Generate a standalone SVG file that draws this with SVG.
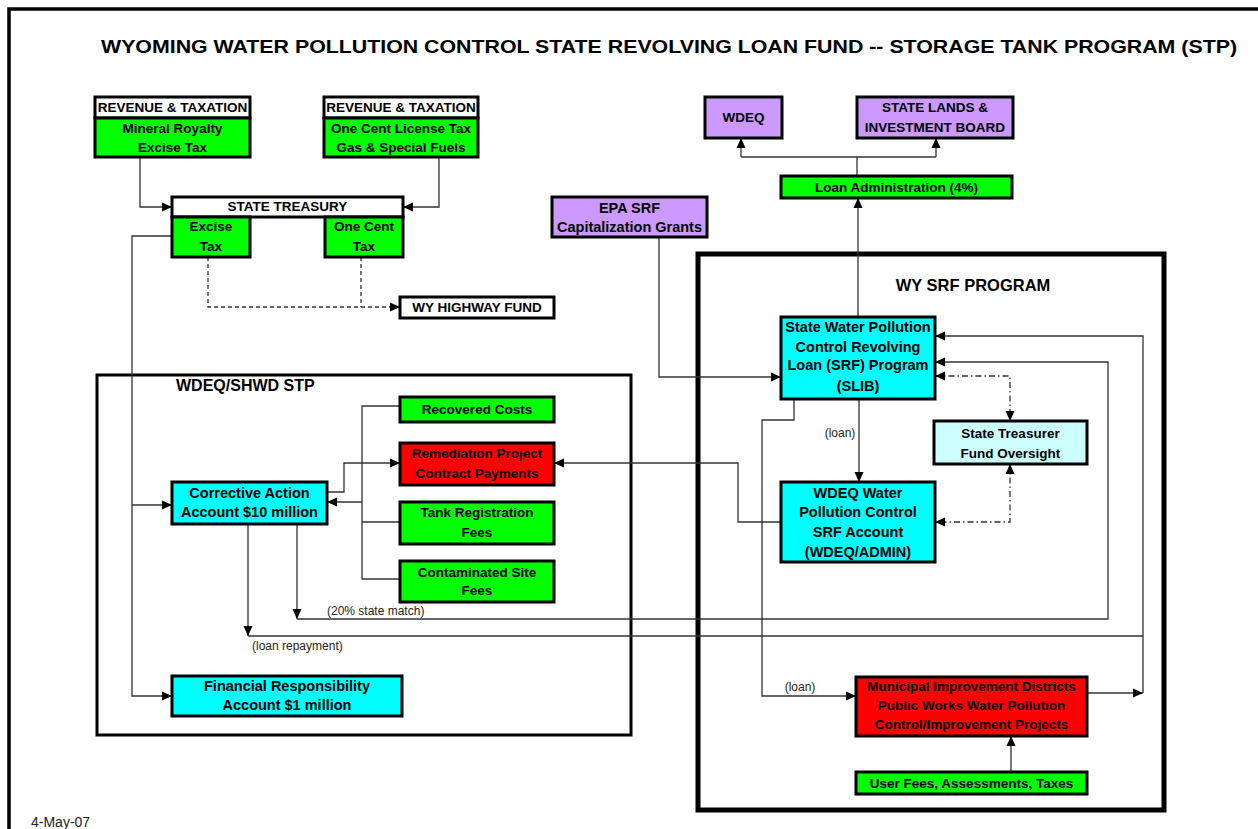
<svg xmlns="http://www.w3.org/2000/svg" width="1258" height="829" viewBox="0 0 1258 829">
<defs>
<style>
.bx{stroke:#000;stroke-width:3}
.w{fill:#fff}.g{fill:#00ff00}.cy{fill:#00ffff}.r{fill:#ff0000}.p{fill:#cc99ff}.lc{fill:#ccffff}
.t{font-family:"Liberation Sans",Arial,sans-serif;font-weight:bold;font-size:13.5px;text-anchor:middle;fill:#000}
.t14{font-size:14.5px}
.lbl{font-family:"Liberation Sans",Arial,sans-serif;font-size:12px;fill:#222}
.c{fill:none;stroke:#333;stroke-width:1.3}
.d{stroke-dasharray:4,3}
.dd{stroke-dasharray:6,3,1.5,3}
.frame{fill:none;stroke:#000}
</style>
<marker id="a" markerUnits="userSpaceOnUse" markerWidth="10" markerHeight="10" refX="10" refY="5" orient="auto-start-reverse">
<path d="M0,0.5 L10,5 L0,9.5 z" fill="#000"/>
</marker>
</defs>
<rect x="9" y="9" width="1265" height="840" class="frame" stroke-width="3.5"/>
<text x="669" y="53" class="t" style="font-size:18.5px" textLength="1136" lengthAdjust="spacingAndGlyphs">WYOMING WATER POLLUTION CONTROL STATE REVOLVING LOAN FUND -- STORAGE TANK PROGRAM (STP)</text>

<rect x="97" y="375" width="534" height="360" class="frame" stroke-width="3"/>
<text x="176" y="391" class="t" style="font-size:16px;text-anchor:start">WDEQ/SHWD STP</text>
<rect x="698" y="254" width="466" height="556" class="frame" stroke-width="5"/>
<text x="973" y="291" class="t" style="font-size:16.5px">WY SRF PROGRAM</text>

<g id="connectors">
<path class="c" d="M140,157 V207 H172" marker-end="url(#a)"/>
<path class="c" d="M439,157 V207 H403" marker-end="url(#a)"/>
<path class="c d" d="M208,257 V307 H400" marker-end="url(#a)"/>
<path class="c d" d="M361,257 V307"/>
<path class="c" d="M172,236 H132 V696 H172" marker-end="url(#a)"/>
<path class="c" d="M132,505 H172" marker-end="url(#a)"/>
<path class="c" d="M400,406 H362 V579 H400"/>
<path class="c" d="M362,522 H400"/>
<path class="c" d="M362,502 H327" marker-end="url(#a)"/>
<path class="c" d="M327,492 H344 V463 H400" marker-end="url(#a)"/>
<path class="c" d="M781,522 H738 V463 H554" marker-end="url(#a)"/>
<path class="c" d="M248,524 V636" marker-end="url(#a)"/>
<path class="c" d="M248,636 H1143"/>
<path class="c" d="M297,524 V619" marker-end="url(#a)"/>
<path class="c" d="M297,619 H1108 V362 H935" marker-end="url(#a)"/>
<path class="c" d="M1087,693 H1143" marker-end="url(#a)"/>
<path class="c" d="M1143,693 V336 H935" marker-end="url(#a)"/>
<path class="c" d="M659,237 V377 H781" marker-end="url(#a)"/>
<path class="c" d="M858,317 V198" marker-end="url(#a)"/>
<path class="c" d="M857,176 V157"/>
<path class="c" d="M741,157 H936"/>
<path class="c" d="M741,157 V138" marker-end="url(#a)"/>
<path class="c" d="M936,157 V138" marker-end="url(#a)"/>
<path class="c" d="M859,399 V482" marker-end="url(#a)"/>
<path class="c dd" d="M935,376 H1010 V421" marker-start="url(#a)" marker-end="url(#a)"/>
<path class="c dd" d="M1010,464 V522 H935" marker-start="url(#a)" marker-end="url(#a)"/>
<path class="c" d="M794,399 V420 H762 V696 H856" marker-end="url(#a)"/>
<path class="c" d="M1011,772 V736" marker-end="url(#a)"/>
<text x="840" y="437" class="lbl" text-anchor="middle">(loan)</text>
<text x="800" y="691" class="lbl" text-anchor="middle">(loan)</text>
<text x="327" y="615" class="lbl">(20% state match)</text>
<text x="252" y="650" class="lbl">(loan repayment)</text>
</g>

<g id="rev1">
<rect x="95" y="97" width="155" height="21" class="bx w"/>
<rect x="95" y="118" width="155" height="39" class="bx g"/>
<text x="172.5" y="112" class="t">REVENUE &amp; TAXATION</text>
<text x="172.5" y="133" class="t">Mineral Royalty</text>
<text x="172.5" y="152" class="t">Excise Tax</text>
</g>
<g id="rev2">
<rect x="324" y="97" width="154" height="21" class="bx w"/>
<rect x="324" y="118" width="154" height="39" class="bx g"/>
<text x="401" y="112" class="t">REVENUE &amp; TAXATION</text>
<text x="401" y="133" class="t">One Cent License Tax</text>
<text x="401" y="152" class="t">Gas &amp; Special Fuels</text>
</g>
<g id="treasury">
<rect x="172" y="197" width="231" height="20" class="bx w"/>
<text x="287.5" y="211" class="t">STATE TREASURY</text>
<rect x="172" y="217" width="78" height="40" class="bx g"/>
<text x="211" y="231" class="t">Excise</text>
<text x="211" y="251" class="t">Tax</text>
<rect x="325" y="217" width="78" height="40" class="bx g"/>
<text x="364" y="231" class="t">One Cent</text>
<text x="364" y="251" class="t">Tax</text>
</g>
<g id="highway">
<rect x="400" y="297" width="154" height="21" class="bx w"/>
<text x="477" y="312" class="t">WY HIGHWAY FUND</text>
</g>
<g id="wdeq">
<rect x="705" y="97" width="77" height="41" class="bx p"/>
<text x="743.5" y="122" class="t">WDEQ</text>
</g>
<g id="stateLands">
<rect x="857" y="97" width="156" height="41" class="bx p"/>
<text x="935" y="112" class="t">STATE LANDS &amp;</text>
<text x="935" y="132" class="t">INVESTMENT BOARD</text>
</g>
<g id="loanAdmin">
<rect x="781" y="176" width="231" height="22" class="bx g"/>
<text x="896.5" y="192" class="t">Loan Administration (4%)</text>
</g>
<g id="epa">
<rect x="552" y="197" width="155" height="40" class="bx p"/>
<text x="629.5" y="213" class="t t14">EPA SRF</text>
<text x="629.5" y="232" class="t t14">Capitalization Grants</text>
</g>
<g id="slib">
<rect x="781" y="317" width="154" height="82" class="bx cy"/>
<text x="858" y="332" class="t t14">State Water Pollution</text>
<text x="858" y="352" class="t t14">Control Revolving</text>
<text x="858" y="370" class="t t14">Loan (SRF) Program</text>
<text x="858" y="391" class="t t14">(SLIB)</text>
</g>
<g id="treasurer">
<rect x="934" y="421" width="153" height="43" class="bx lc"/>
<text x="1010.5" y="438" class="t">State Treasurer</text>
<text x="1010.5" y="458" class="t">Fund Oversight</text>
</g>
<g id="wdeqWater">
<rect x="781" y="482" width="154" height="80" class="bx cy"/>
<text x="858" y="498" class="t t14">WDEQ Water</text>
<text x="858" y="517" class="t t14">Pollution Control</text>
<text x="858" y="537" class="t t14">SRF Account</text>
<text x="858" y="557" class="t t14">(WDEQ/ADMIN)</text>
</g>
<g id="municipal">
<rect x="856" y="677" width="231" height="59" class="bx r"/>
<text x="971.5" y="691" class="t">Municipal Improvement Districts</text>
<text x="971.5" y="710" class="t">Public Works Water Pollution</text>
<text x="971.5" y="729" class="t">Control/Improvement Projects</text>
</g>
<g id="userFees">
<rect x="856" y="772" width="231" height="22" class="bx g"/>
<text x="971.5" y="788" class="t">User Fees, Assessments, Taxes</text>
</g>
<g id="recovered">
<rect x="400" y="397" width="154" height="25" class="bx g"/>
<text x="477" y="414" class="t">Recovered Costs</text>
</g>
<g id="remediation">
<rect x="400" y="443" width="154" height="42" class="bx r"/>
<text x="477" y="458" class="t">Remediation Project</text>
<text x="477" y="478" class="t">Contract Payments</text>
</g>
<g id="tankReg">
<rect x="400" y="502" width="154" height="42" class="bx g"/>
<text x="477" y="517" class="t">Tank Registration</text>
<text x="477" y="537" class="t">Fees</text>
</g>
<g id="contaminated">
<rect x="400" y="561" width="154" height="41" class="bx g"/>
<text x="477" y="577" class="t">Contaminated Site</text>
<text x="477" y="595" class="t">Fees</text>
</g>
<g id="corrective">
<rect x="172" y="482" width="155" height="42" class="bx cy"/>
<text x="249.5" y="498" class="t t14">Corrective Action</text>
<text x="249.5" y="517" class="t t14">Account $10 million</text>
</g>
<g id="financial">
<rect x="172" y="676" width="230" height="40" class="bx cy"/>
<text x="287" y="691" class="t t14">Financial Responsibility</text>
<text x="287" y="710" class="t t14">Account $1 million</text>
</g>
<text x="31" y="827" class="lbl" style="font-size:14px">4-May-07</text>
</svg>
